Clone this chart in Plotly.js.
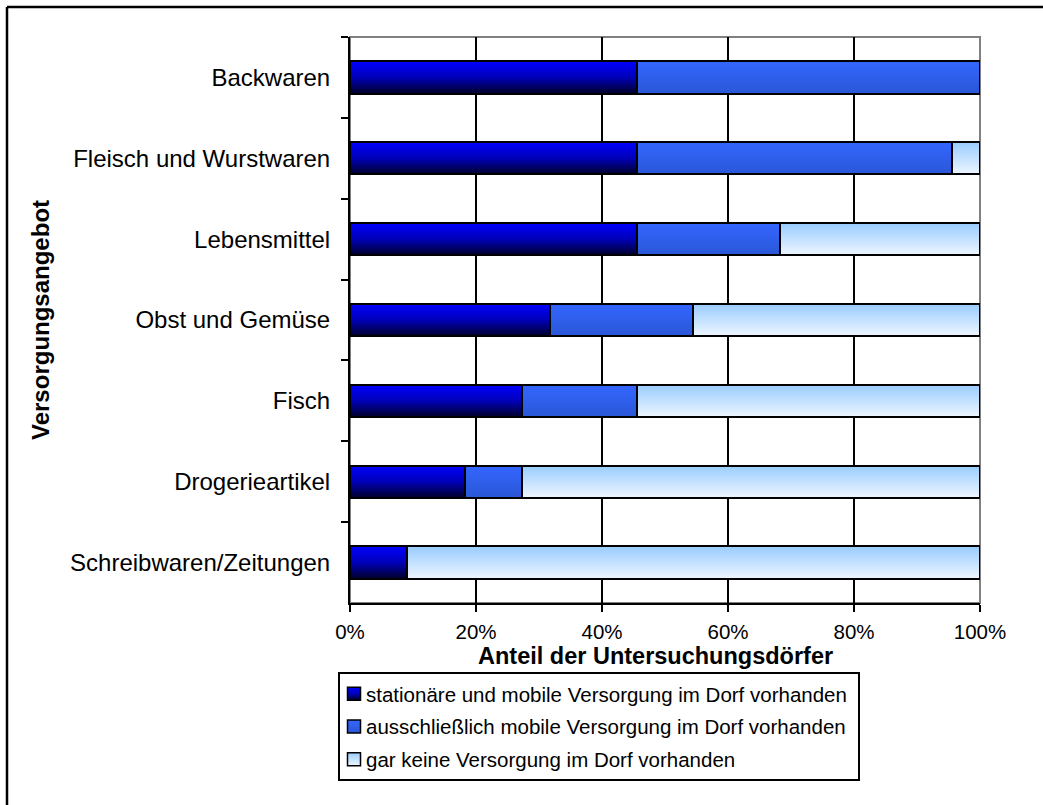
<!DOCTYPE html>
<html>
<head>
<meta charset="utf-8">
<script src="https://cdn.plot.ly/plotly-3.0.1.min.js"></script>
<style>
  html, body { margin: 0; padding: 0; background: #ffffff; }
  #chart { width: 1043px; height: 805px; }
</style>
</head>
<body>
<div id="chart"></div>
<script>
// ---- Data ----
var categories = [
  'Backwaren',
  'Fleisch und Wurstwaren',
  'Lebensmittel',
  'Obst und Gemüse',
  'Fisch',
  'Drogerieartikel',
  'Schreibwaren/Zeitungen'
];
var seriesNames = [
  'stationäre und mobile Versorgung im Dorf vorhanden',
  'ausschließlich mobile Versorgung im Dorf vorhanden',
  'gar keine Versorgung im Dorf vorhanden'
];
var stationaerMobil = [45.5, 45.5, 45.5, 31.8, 27.3, 18.2, 9.1];
var nurMobil        = [54.5, 50.0, 22.7, 22.7, 18.2, 9.1, 0];
var keineVersorgung = [0, 4.5, 31.8, 45.5, 54.5, 72.7, 90.9];
var xTickValues = [0, 20, 40, 60, 80, 100];

// ---- Styles ----
var baseColors = ['#0000b0', '#3062f0', '#c4e0ff'];
var gradients = [
  [[0, '#0000ff'], [0.5, '#0000b8'], [1, '#000028']],
  [[0, '#3366ff'], [1, '#2a57d6']],
  [[0, '#99ccff'], [1, '#eef6ff']]
];
var FONT = 'Liberation Sans, Arial, Helvetica, sans-serif';
var seriesValues = [stationaerMobil, nurMobil, keineVersorgung];

var data = seriesValues.map(function (vals, i) {
  return {
    type: 'bar',
    orientation: 'h',
    name: seriesNames[i],
    legendgroup: 'g' + i,
    x: vals,
    y: categories,
    marker: { color: baseColors[i], line: { color: '#000000', width: 2 } },
    hoverinfo: 'none'
  };
});

var L = 350, R = 980, T = 37, B = 603;
var W = 1043, H = 805;
function px2x(px) { return (px - L) / (R - L); }
function py2y(py) { return (B - py) / (B - T); }

var layout = {
  width: W,
  height: H,
  paper_bgcolor: '#ffffff',
  plot_bgcolor: '#ffffff',
  margin: { l: L, r: W - R, t: T, b: H - B, pad: 0, autoexpand: false },
  barmode: 'stack',
  bargap: 0.6,
  font: { family: FONT, color: '#000000' },
  showlegend: true,
  legend: {
    x: px2x(338), y: py2y(672), xanchor: 'left', yanchor: 'top',
    orientation: 'v',
    traceorder: 'grouped',
    tracegroupgap: 3,
    bgcolor: '#ffffff',
    bordercolor: '#000000',
    borderwidth: 2,
    font: { family: FONT, size: 20.5, color: '#000000' },
    itemwidth: 30
  },
  xaxis: {
    range: [0, 100],
    tickvals: xTickValues,
    ticktext: xTickValues.map(function (v) { return v + '%'; }),
    ticks: 'outside',
    ticklen: 7,
    tickwidth: 2,
    tickcolor: '#000000',
    showline: true,
    linecolor: '#000000',
    linewidth: 2,
    showgrid: true,
    gridcolor: '#000000',
    gridwidth: 2,
    zeroline: false,
    fixedrange: true,
    tickfont: { family: FONT, size: 20.5, color: '#000000' },
    ticklabelstandoff: 2
  },
  yaxis: {
    type: 'category',
    autorange: 'reversed',
    tickson: 'boundaries',
    ticks: 'outside',
    ticklen: 7,
    tickwidth: 2,
    tickcolor: '#000000',
    showline: true,
    linecolor: '#000000',
    linewidth: 2,
    showgrid: false,
    zeroline: false,
    fixedrange: true,
    tickfont: { family: FONT, size: 24, color: '#000000' },
    ticklabelstandoff: 13
  },
  shapes: [
    // grey plot-area frame (top and right edges visible)
    { type: 'rect', xref: 'paper', yref: 'paper', x0: 0, x1: 1, y0: 0, y1: 1,
      line: { color: '#808080', width: 2 }, fillcolor: 'rgba(0,0,0,0)', layer: 'below' },
    // outer chart frame: top and left edges
    { type: 'line', xref: 'paper', yref: 'paper', x0: px2x(7), x1: px2x(1060), y0: py2y(7), y1: py2y(7),
      line: { color: '#000000', width: 2.5 } },
    { type: 'line', xref: 'paper', yref: 'paper', x0: px2x(7), x1: px2x(7), y0: py2y(7), y1: py2y(830),
      line: { color: '#000000', width: 2.5 } }
  ],
  annotations: [
    { text: '<b>Anteil der Untersuchungsdörfer</b>', xref: 'paper', yref: 'paper',
      x: px2x(655), y: py2y(656), xanchor: 'center', yanchor: 'middle', showarrow: false,
      font: { family: FONT, size: 23.5, color: '#000000' } },
    { text: '<b>Versorgungsangebot</b>', xref: 'paper', yref: 'paper',
      x: px2x(40), y: py2y(320), xanchor: 'center', yanchor: 'middle', showarrow: false,
      textangle: -90,
      font: { family: FONT, size: 24, color: '#000000' } }
  ]
};

var gd = document.getElementById('chart');
Plotly.newPlot(gd, data, layout, { staticPlot: true, displayModeBar: false }).then(function () {
  var ns = 'http://www.w3.org/2000/svg';
  var svg = gd.querySelector('svg.main-svg');
  var defs = svg.querySelector('defs');
  if (!defs) { defs = document.createElementNS(ns, 'defs'); svg.insertBefore(defs, svg.firstChild); }
  gradients.forEach(function (stops, i) {
    var lg = document.createElementNS(ns, 'linearGradient');
    lg.setAttribute('id', 'barGrad' + i);
    lg.setAttribute('x1', '0'); lg.setAttribute('y1', '0');
    lg.setAttribute('x2', '0'); lg.setAttribute('y2', '1');
    stops.forEach(function (s) {
      var st = document.createElementNS(ns, 'stop');
      st.setAttribute('offset', s[0]);
      st.setAttribute('stop-color', s[1]);
      lg.appendChild(st);
    });
    defs.appendChild(lg);
  });
  var traces = gd.querySelectorAll('.barlayer .trace');
  traces.forEach(function (tr, i) {
    var idx = (tr.__data__ && tr.__data__[0] && tr.__data__[0].trace) ? tr.__data__[0].trace.index : i;
    tr.querySelectorAll('path').forEach(function (p) { p.style.fill = 'url(#barGrad' + idx + ')'; });
  });
  // legend: gradient swatches with black outline, tighter swatch-text spacing
  var shift = 14;
  var legTraces = gd.querySelectorAll('.legend .traces');
  legTraces.forEach(function (tr, i) {
    var idx = (tr.__data__ && tr.__data__[0] && tr.__data__[0].trace) ? tr.__data__[0].trace.index : i;
    tr.querySelectorAll('.legendpoints path').forEach(function (p) {
      p.style.fill = 'url(#barGrad' + idx + ')';
      p.style.stroke = '#000000';
      p.style.strokeWidth = '1.5px';
      p.setAttribute('d', 'M6.5,6.5H-6.5V-6.5H6.5Z');
    });
    var pts = tr.querySelector('.legendpoints');
    if (pts) { pts.setAttribute('transform', 'translate(-6,0)'); }
    var txt = tr.querySelector('.legendtext');
    if (txt) {
      var x = parseFloat(txt.getAttribute('x')) || 40;
      txt.setAttribute('x', x - shift);
      txt.querySelectorAll('tspan[x]').forEach(function (t) {
        t.setAttribute('x', parseFloat(t.getAttribute('x')) - shift);
      });
    }
  });
  var bg = gd.querySelector('.legend rect.bg');
  if (bg) {
    var w = parseFloat(bg.getAttribute('width'));
    bg.setAttribute('width', w - 8);
  }
});
</script>
</body>
</html>
